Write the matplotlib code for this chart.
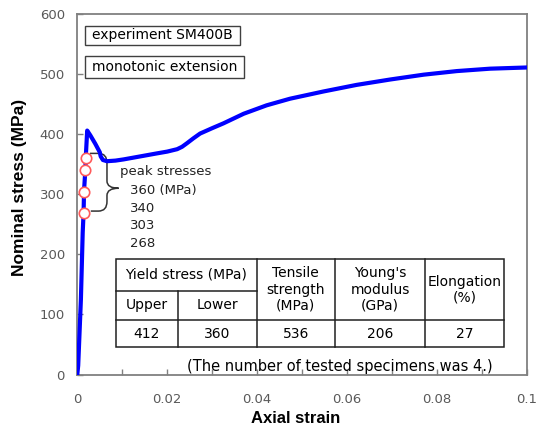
import matplotlib
matplotlib.use("Agg")
import matplotlib.pyplot as plt
from matplotlib.patches import Rectangle, PathPatch
from matplotlib.path import Path

plt.rcParams['font.family'] = ['Liberation Sans', 'DejaVu Sans']
SMALL = ['DejaVu Sans']

# ---- data ----
strain = [0.0, 0.0002, 0.0008, 0.0012, 0.0014, 0.0015, 0.0018, 0.0019, 0.0022,
          0.0029, 0.0040, 0.0050, 0.0052, 0.0057, 0.0066, 0.0085, 0.0103, 0.0140,
          0.0177, 0.0200, 0.0222, 0.0233, 0.0244, 0.0258, 0.0273, 0.0300, 0.0325,
          0.0370, 0.0421, 0.0473, 0.0547, 0.0621, 0.0696, 0.0770, 0.0844, 0.0918,
          0.1000]
stress = [0, 15, 125, 236, 270, 306, 342, 364, 406,
          398, 384, 370, 363, 357, 355, 356, 358, 363,
          368, 371, 375, 379, 385, 393, 401, 410, 418,
          434, 448, 459, 471, 482, 491, 499, 505, 509,
          511]

peak_stress = [360, 340, 303, 268]
peak_strain = [0.00198, 0.00176, 0.00153, 0.0014]

x_ticks = [0, 0.02, 0.04, 0.06, 0.08, 0.1]
x_ticklabels = ["0", "0.02", "0.04", "0.06", "0.08", "0.1"]
y_ticks = [0, 100, 200, 300, 400, 500, 600]

box_labels = ["experiment SM400B", "monotonic extension"]

tbl_group = "Yield stress (MPa)"
tbl_sub = ["Upper", "Lower"]
tbl_heads = ["Tensile\nstrength\n(MPa)", "Young's\nmodulus\n(GPa)", "Elongation\n(%)"]
tbl_values = [412, 360, 536, 206, 27]
footnote = "(The number of tested specimens was 4.)"

# ---- figure ----
W, H = 536, 430
fig = plt.figure(figsize=(W / 100, H / 100), dpi=100)
L, R, T, B = 77.3, 527.0, 14.0, 374.5
ax = fig.add_axes([L / W, 1 - B / H, (R - L) / W, (B - T) / H])

ax.plot(strain, stress, color='#0000ff', lw=3.0, solid_joinstyle='round', zorder=3)
ax.plot(peak_strain, peak_stress, 'o', ms=7.5, mfc='white', mec='#ff5a5a', mew=1.2, zorder=4)

ax.set_xlim(0, 0.1)
ax.set_ylim(0, 600)
ax.set_xticks(x_ticks)
ax.set_xticklabels(x_ticklabels)
ax.set_xticks([0.01, 0.03, 0.05, 0.07, 0.09], minor=True)
ax.set_yticks(y_ticks)
ax.tick_params(axis='both', which='both', direction='in', colors='#808080', length=4, width=1.0,
               labelcolor='#595959', labelsize=9.5)
ax.tick_params(axis='x', which='major', pad=13)
ax.tick_params(axis='y', which='major', pad=9)
for lab in ax.get_xticklabels() + ax.get_yticklabels():
    lab.set_family(SMALL)
for s in ax.spines.values():
    s.set_color('#808080')
    s.set_linewidth(1.3)

ax.set_xlabel("Axial strain", fontsize=12, fontweight='bold')
ax.set_ylabel("Nominal stress (MPa)", fontsize=12.5, fontweight='bold')
ax.xaxis.set_label_coords(0.486, -0.100)
ax.yaxis.set_label_coords(-0.112, 0.52)

# brace (data coordinates)
xl, xm, xt = 0.0028, 0.0066, 0.0092
yt, yc, yb = 368, 310, 272
verts = [(xl, yt), (0.0047, yt), (xm, yt), (xm, yt - 16), (xm, yc + 12),
         (xm, yc), (xt, yc), (xm, yc), (xm, yc - 12), (xm, yb + 16),
         (xm, yb), (0.0047, yb), (0.0030, yb)]
codes = [Path.MOVETO, Path.LINETO, Path.CURVE3, Path.CURVE3, Path.LINETO,
         Path.CURVE3, Path.CURVE3, Path.CURVE3, Path.CURVE3, Path.LINETO,
         Path.CURVE3, Path.CURVE3, Path.LINETO]
ax.add_patch(PathPatch(Path(verts, codes), fill=False, ec='#333333', lw=1.1, zorder=2))

# ---- overlay in pixel coordinates for annotations / table ----
ov = fig.add_axes([0, 0, 1, 1])
ov.set_xlim(0, W)
ov.set_ylim(H, 0)
ov.axis('off')
ov.patch.set_alpha(0)

fs = 10
# text boxes
for (x0, x1, y0, y1), lab in zip([(85, 240, 26, 45), (85, 244, 56, 78)], box_labels):
    ov.add_patch(Rectangle((x0, y0), x1 - x0, y1 - y0, fc='white', ec='#404040', lw=1.0))
    ov.text((x0 + x1) / 2, (y0 + y1) / 2, lab, ha='center', va='center', fontsize=10,
            color='black', family=SMALL)

# peak stress labels
ov.text(120, 172, "peak stresses", ha='left', va='center', fontsize=9.5, color='#222222', family=SMALL)
peak_lines = [f"{peak_stress[0]} (MPa)"] + [str(v) for v in peak_stress[1:]]
for i, t in enumerate(peak_lines):
    ov.text(130, 190.7 + i * 17.5, t, ha='left', va='center', fontsize=9.5, color='#222222',
            family=SMALL)

# table
tl, tr, tt, tm, th, tb = 116, 504, 259.3, 290.7, 320, 347.3
cols = [116, 177.7, 256.7, 335, 425, 504]
ov.add_patch(Rectangle((tl, tt), tr - tl, tb - tt, fc='white', ec='#202020', lw=1.1))
lk = dict(color='#202020', lw=1.1)
ov.plot([tl, cols[2]], [tm, tm], **lk)
ov.plot([tl, tr], [th, th], **lk)
ov.plot([cols[1], cols[1]], [tm, tb], **lk)
for c in cols[2:5]:
    ov.plot([c, c], [tt, tb], **lk)
tk = dict(ha='center', va='center', fontsize=fs, family=SMALL)
ov.text((cols[0] + cols[2]) / 2, (tt + tm) / 2, tbl_group, **tk)
for i, s in enumerate(tbl_sub):
    ov.text((cols[i] + cols[i + 1]) / 2, (tm + th) / 2, s, **tk)
for i, s in enumerate(tbl_heads):
    ov.text((cols[i + 2] + cols[i + 3]) / 2, (tt + th) / 2, s, linespacing=1.2, **tk)
for i, v in enumerate(tbl_values):
    ov.text((cols[i] + cols[i + 1]) / 2, (th + tb) / 2, str(v), **tk)
ov.text(340, 366.7, footnote, ha='center', va='center', fontsize=10.5, family=SMALL)

fig.savefig("out.png", dpi=100)
